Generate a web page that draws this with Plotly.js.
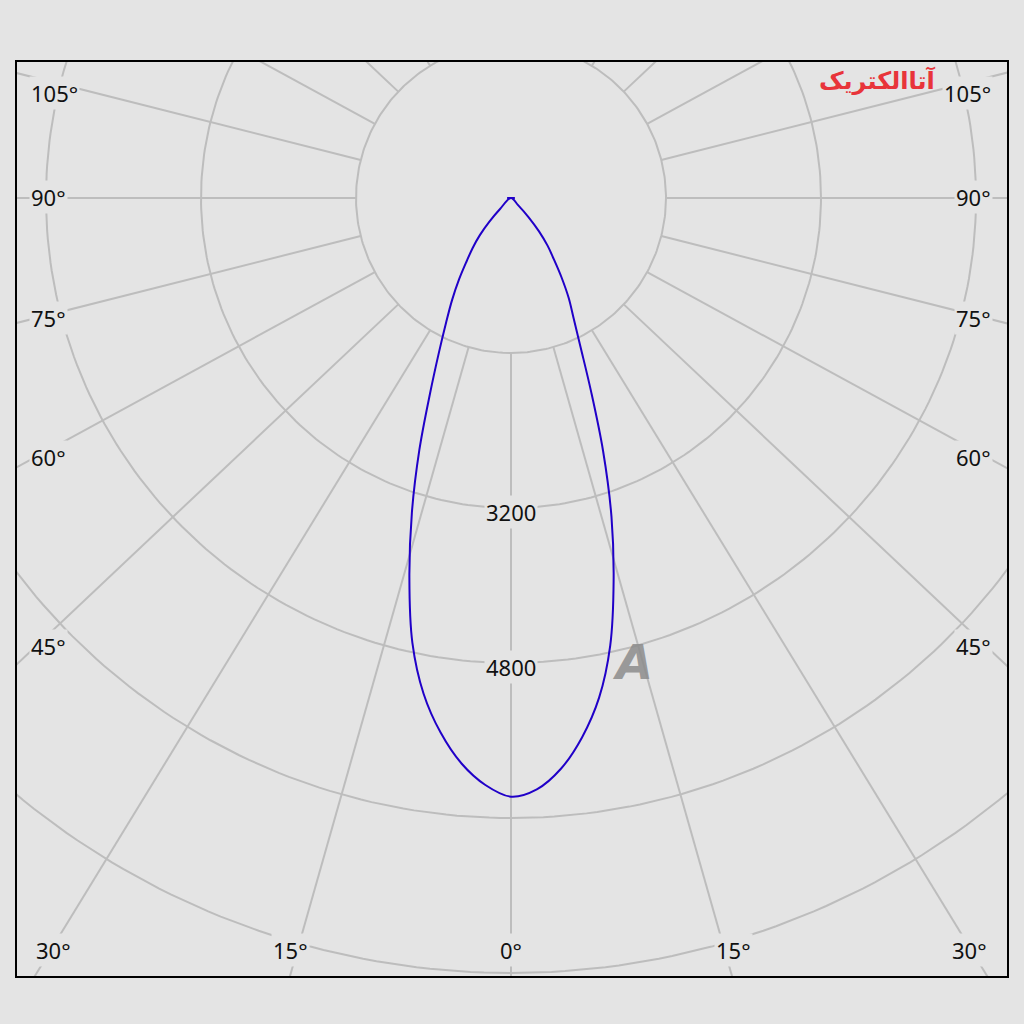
<!DOCTYPE html>
<html>
<head>
<meta charset="utf-8">
<script src="https://cdn.plot.ly/plotly-3.0.1.min.js"></script>
<style>html,body{margin:0;padding:0;background:#e4e4e4;}</style>
</head>
<body>
<div id="chart" style="width:1024px;height:1024px;"></div>
<script>
// ---- data (luminous intensity, cd) ----
const gammaDeg = [0, 2.5, 5, 7.5, 10, 12.5, 15, 17.5, 20, 22.5, 25, 27.5, 30, 32.5, 35, 37.5, 40, 42.5, 45, 47.5, 50, 90];
const intensityRight = [6180, 6110, 5914, 5616, 5237, 4732, 4093, 3449, 2779, 2158, 1700, 1400, 1190, 970, 770, 620, 450, 270, 100, 0, 0, 40];
const intensityLeft  = [6180, 6065, 5860, 5566, 5196, 4703, 4053, 3402, 2765, 2184, 1761, 1452, 1217, 1000, 800, 650, 500, 330, 160, 0, 0, 40];
const ringValues = [1600, 3200, 4800, 6400, 8000, 9600];
const ringLabelValues = [3200, 4800];
const spokeAngles = [-165, -150, -135, -120, -105, -90, -75, -60, -45, -30, -15, 0, 15, 30, 45, 60, 75, 90, 105, 120, 135, 150, 165, 180];
const sideLabels = ['105°', '90°', '75°', '60°', '45°'];
const bottomLabels = ['30°', '15°', '0°', '15°', '30°'];

// ---- styling / geometry ----
const BG = '#e4e4e4';
const GRID = '#bdbdbd';
const LOBE = '#2000c8';
const W = 1024, H = 1024;
const plotL = 17, plotR = 1007, plotT = 62, plotB = 976;
const cx = 511, cy = 198;                 // pole position in pixels
const pxPerCd = 155 / 1600;               // radial scale
const spokeAspect = 1.06;                 // horizontal stretch of the spoke directions in the reference
const innerR = ringValues[0];

const xRange = [-(cx - plotL) / pxPerCd, (plotR - cx) / pxPerCd];
const yRange = [-(plotB - cy) / pxPerCd, (cy - plotT) / pxPerCd];
const rad = d => d * Math.PI / 180;
const px2paperX = p => (p - plotL) / (plotR - plotL);
const px2paperY = p => (plotB - p) / (plotB - plotT);

// rings
const ringX = [], ringY = [];
ringValues.forEach(r => {
  for (let a = 0; a <= 360; a += 1) { ringX.push(r * Math.sin(rad(a))); ringY.push(-r * Math.cos(rad(a))); }
  ringX.push(null); ringY.push(null);
});

// spokes (from inner ring outwards)
const spX = [], spY = [];
spokeAngles.forEach(a => {
  let dx = spokeAspect * Math.sin(rad(a)), dy = -Math.cos(rad(a));
  const n = Math.hypot(dx, dy); dx /= n; dy /= n;
  spX.push(innerR * dx, 20000 * dx, null);
  spY.push(innerR * dy, 20000 * dy, null);
});

// lobe halves: from 0° out to the first zero (cut-off)
function half(vals, sign) {
  const xs = [], ys = [];
  for (let i = 0; i < gammaDeg.length; i++) {
    xs.push(sign * vals[i] * Math.sin(rad(gammaDeg[i])));
    ys.push(-vals[i] * Math.cos(rad(gammaDeg[i])));
    if (vals[i] === 0) break;
  }
  return {xs, ys};
}
const L = half(intensityLeft, -1), R = half(intensityRight, 1);
const lobeX = L.xs.slice().reverse().concat(R.xs.slice(1));
const lobeY = L.ys.slice().reverse().concat(R.ys.slice(1));
// values at 90° (small horizontal tick at the pole)
const last = gammaDeg.length - 1;
const tickX = [-intensityLeft[last] * Math.sin(rad(gammaDeg[last])), intensityRight[last] * Math.sin(rad(gammaDeg[last]))];
const tickY = [-intensityLeft[last] * Math.cos(rad(gammaDeg[last])), -intensityRight[last] * Math.cos(rad(gammaDeg[last]))];

const traces = [
  {x: ringX, y: ringY, mode: 'lines', line: {color: GRID, width: 2}, hoverinfo: 'skip', showlegend: false},
  {x: spX, y: spY, mode: 'lines', line: {color: GRID, width: 2}, hoverinfo: 'skip', showlegend: false},
  {x: lobeX, y: lobeY, mode: 'lines', line: {color: LOBE, width: 2, shape: 'spline', smoothing: 1}, hoverinfo: 'skip', showlegend: false},
  {x: tickX, y: tickY, mode: 'lines', line: {color: LOBE, width: 2}, hoverinfo: 'skip', showlegend: false}
];

const labelFont = {family: 'Noto Sans, DejaVu Sans, sans-serif', size: 22, color: '#111'};
const annotations = [];
ringLabelValues.forEach(v => annotations.push({
  x: 0, y: -v, xref: 'x', yref: 'y', text: String(v), showarrow: false,
  yshift: -4, font: labelFont, bgcolor: BG, borderpad: 1
}));
const sideY = [93, 197, 318, 457, 646];
sideLabels.forEach((t, i) => {
  annotations.push({x: px2paperX(29), y: px2paperY(sideY[i]), xref: 'paper', yref: 'paper', text: t, showarrow: false,
    xanchor: 'left', yanchor: 'middle', font: labelFont, bgcolor: BG, borderpad: 1});
  annotations.push({x: px2paperX(993), y: px2paperY(sideY[i]), xref: 'paper', yref: 'paper', text: t, showarrow: false,
    xanchor: 'right', yanchor: 'middle', font: labelFont, bgcolor: BG, borderpad: 1});
});
const bottomX = [53, 290, 511, 733, 969];
bottomLabels.forEach((t, i) => annotations.push({
  x: px2paperX(bottomX[i]), y: px2paperY(950), xref: 'paper', yref: 'paper', text: t, showarrow: false,
  xanchor: 'center', yanchor: 'middle', font: labelFont, bgcolor: BG, borderpad: 1
}));
// watermarks
annotations.push({x: px2paperX(938), y: px2paperY(80), xref: 'paper', yref: 'paper', text: '<b>آتاالکتریک</b>',
  showarrow: false, xanchor: 'right', yanchor: 'middle', font: {family: 'DejaVu Sans, sans-serif', size: 24, color: '#e8343a'}});
annotations.push({x: px2paperX(632), y: px2paperY(662), xref: 'paper', yref: 'paper', text: '<b><i>A</i></b>',
  showarrow: false, xanchor: 'center', yanchor: 'middle', font: {family: 'DejaVu Sans, sans-serif', size: 48, color: 'rgba(140,140,140,0.85)'}});

const axisCommon = {showgrid: false, zeroline: false, showticklabels: false, ticks: '', showline: true, mirror: true,
  linecolor: '#000', linewidth: 2, fixedrange: true};

const layout = {
  width: W, height: H,
  margin: {l: plotL, r: W - plotR, t: plotT, b: H - plotB, pad: 0},
  paper_bgcolor: BG, plot_bgcolor: BG,
  xaxis: Object.assign({range: xRange}, axisCommon),
  yaxis: Object.assign({range: yRange}, axisCommon),
  annotations: annotations,
  showlegend: false
};

Plotly.newPlot('chart', traces, layout, {displayModeBar: false, staticPlot: true});
</script>
</body>
</html>
